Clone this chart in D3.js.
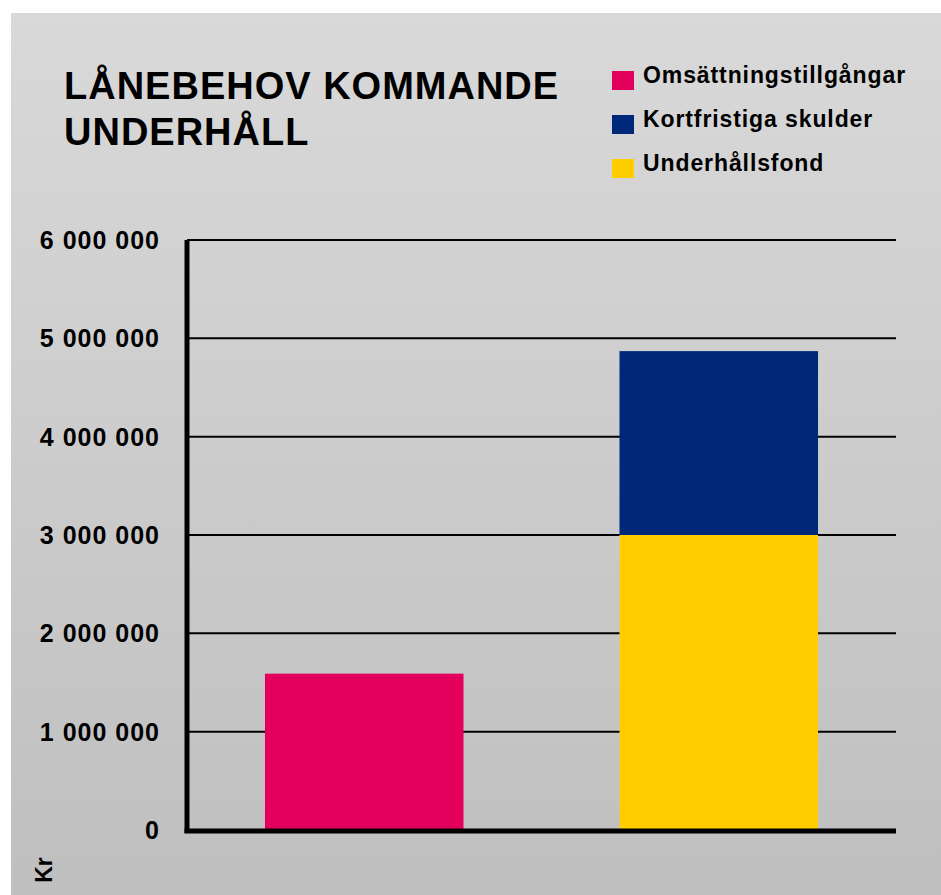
<!DOCTYPE html>
<html>
<head>
<meta charset="utf-8">
<script src="https://cdn.jsdelivr.net/npm/d3@7"></script>
<style>
  body { margin: 0; background: #fff; }
  text { font-family: "Liberation Sans", Arial, sans-serif; font-weight: bold; fill: #000; }
</style>
</head>
<body>
<div class="chart"></div>
<script>
// DATA ------------------------------
const groups = ["bar1", "bar2"];   // the two columns (no labels in the chart)
const seriesNames = ["Omsättningstillgångar", "Kortfristiga skulder", "Underhållsfond"];
const seriesColors = ["#e3005c", "#00287a", "#ffcd00"];
const omsattning = [1590000, 0];
const kortfristiga = [0, 1870000];
const underhallsfond = [0, 3000000];
const yTicks = [0, 1000000, 2000000, 3000000, 4000000, 5000000, 6000000];
const titleLines = ["LÅNEBEHOV KOMMANDE", "UNDERHÅLL"];

// CHART INIT ------------------------------
const W = 941, H = 895;
const plot = {left: 187, right: 896, top: 240, bottom: 830};

const svg = d3.select(".chart")
    .append("svg")
    .attr("width", W)
    .attr("height", H);

// background gradient
const grad = svg.append("defs").append("linearGradient")
    .attr("id", "bg")
    .attr("x1", 0).attr("y1", 0).attr("x2", 0).attr("y2", 1);
grad.append("stop").attr("offset", "0%").attr("stop-color", "#d9d9d9");
grad.append("stop").attr("offset", "100%").attr("stop-color", "#bfbfbf");

svg.append("rect")
    .attr("x", 11).attr("y", 13)
    .attr("width", W - 11).attr("height", H - 13)
    .attr("fill", "url(#bg)");

// build rows for stacking
const table = groups.map((g, i) => ({
    group: g,
    "Omsättningstillgångar": omsattning[i],
    "Kortfristiga skulder": kortfristiga[i],
    "Underhållsfond": underhallsfond[i]
}));
const stackOrder = ["Omsättningstillgångar", "Underhållsfond", "Kortfristiga skulder"];
const stacked = d3.stack().keys(stackOrder)(table);
const color = d3.scaleOrdinal().domain(seriesNames).range(seriesColors);

// scales
const xScale = d3.scaleBand()
    .domain(groups)
    .range([plot.left, plot.right])
    .paddingInner(0.44)
    .paddingOuter(0.22);

const yScale = d3.scaleLinear()
    .domain([0, 6000000])
    .range([plot.bottom, plot.top]);

const fmt = d3.formatLocale({decimal: ",", thousands: " ", grouping: [3], currency: ["", " kr"]}).format(",");

// gridlines
svg.append("g")
    .selectAll("line")
    .data(yTicks.filter(d => d > 0))
    .join("line")
    .attr("x1", plot.left).attr("x2", plot.right)
    .attr("y1", d => yScale(d)).attr("y2", d => yScale(d))
    .attr("stroke", "#000")
    .attr("stroke-width", 2);

// bars
svg.append("g")
    .selectAll("g")
    .data(stacked)
    .join("g")
    .attr("fill", d => color(d.key))
    .selectAll("rect")
    .data(d => d.filter(s => s[1] - s[0] > 0))
    .join("rect")
    .attr("x", d => xScale(d.data.group))
    .attr("width", xScale.bandwidth())
    .attr("y", d => yScale(d[1]))
    .attr("height", d => yScale(d[0]) - yScale(d[1]));

// axes (thick lines)
svg.append("line")
    .attr("x1", plot.left).attr("x2", plot.left)
    .attr("y1", plot.top).attr("y2", plot.bottom + 3)
    .attr("stroke", "#000").attr("stroke-width", 5);
svg.append("line")
    .attr("x1", plot.left - 2.5).attr("x2", plot.right)
    .attr("y1", plot.bottom + 1).attr("y2", plot.bottom + 1)
    .attr("stroke", "#000").attr("stroke-width", 5);

// y tick labels
svg.append("g")
    .selectAll("text")
    .data(yTicks)
    .join("text")
    .attr("x", 160)
    .attr("y", d => yScale(d) + 9)
    .attr("text-anchor", "end")
    .style("font-size", "25px")
    .style("letter-spacing", "1px")
    .text(d => fmt(d));

// y axis unit
svg.append("text")
    .attr("transform", "translate(52,870) rotate(-90)")
    .attr("text-anchor", "middle")
    .style("font-size", "23px")
    .text("Kr");

// title
svg.append("g")
    .selectAll("text")
    .data(titleLines)
    .join("text")
    .attr("x", 64)
    .attr("y", (d, i) => 99 + i * 46)
    .style("font-size", "38px")
    .style("letter-spacing", "1px")
    .text(d => d);

// legend
const legend = svg.append("g")
    .selectAll("g")
    .data(seriesNames)
    .join("g")
    .attr("transform", (d, i) => `translate(612, ${71 + i * 44})`);
legend.append("rect")
    .attr("width", 22).attr("height", 19)
    .attr("fill", d => color(d));
legend.append("text")
    .attr("x", 31).attr("y", 12)
    .style("font-size", "23px")
    .style("letter-spacing", "0.9px")
    .text(d => d);
</script>
</body>
</html>
